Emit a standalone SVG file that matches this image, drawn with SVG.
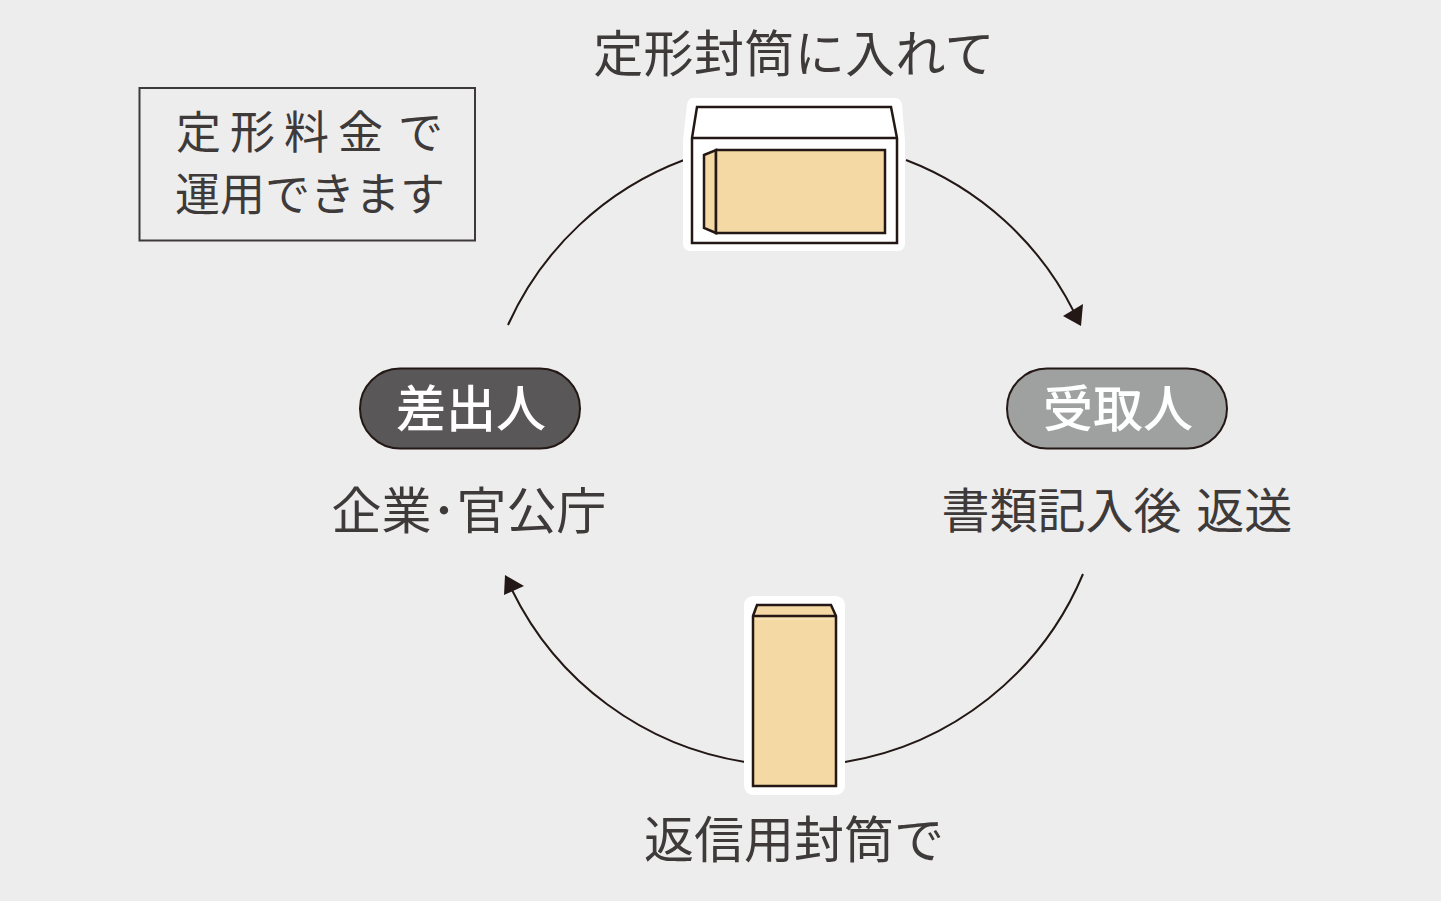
<svg xmlns="http://www.w3.org/2000/svg" width="1441" height="901" viewBox="0 0 1441 901">
<style>
text{font-family:"Noto Sans CJK JP","Noto Sans CJK SC",sans-serif;fill:#3e3a39;font-size:50px;text-anchor:middle}
.note{font-size:45px;text-anchor:start}
.pill{stroke:#231815;stroke-width:2}
.pt{fill:#fff;font-weight:500;font-size:50px}
.arc{fill:none;stroke:#231815;stroke-width:2}
.halo{fill:#fff}
.line{stroke:#231815;stroke-width:2.5;stroke-linejoin:miter}
.kraft{fill:#f4d9a5}
.ah{fill:#231815}
</style>
<rect width="1441" height="901" fill="#ededed"/>
<g id="connectors">
<path class="arc" d="M508 325A313 313 0 0 1 684 160"/>
<path class="arc" d="M906 160A313 313 0 0 1 1074 312"/>
<path class="ah" d="M1063 316L1083 304L1081 326Z"/>
<path class="arc" d="M1083 574A313 313 0 0 1 845 762"/>
<path class="arc" d="M745 762A313 313 0 0 1 512 590"/>
<path class="ah" d="M504 595L505 575L524 586Z"/>
</g>
<g id="note">
<rect x="139.500" y="88" width="335.500" height="152.500" fill="none" stroke="#3e3a39" stroke-width="2"/>
<text class="note" x="176" y="149" style="letter-spacing:9px">定形料金</text>
<text class="note" x="398" y="149">で</text>
<text class="note" x="175" y="211">運用できます</text>
</g>
<g id="envelope-top">
<text x="794" y="72" style="letter-spacing:0.400px">定形封筒に入れて</text>
<path class="halo" d="M693 98H895Q901 98 902 105L905 140V243Q905 251 897 251H691Q683 251 683 243V140L687 105Q688 98 693 98Z"/>
<path class="line" fill="#fff" d="M692 138L697 107H891L897 138V243H692Z"/>
<path class="line" d="M692 138H897" fill="none"/>
<path class="line kraft" d="M704 155L716 150V233L704 228Z"/>
<path class="line kraft" d="M716 150H885V233H716Z"/>
</g>
<g id="sender">
<rect class="pill" x="360" y="368.500" width="220" height="80" rx="40" fill="#595757"/>
<text class="pt" x="471" y="427">差出人</text>
<text x="469" y="529">企業･官公庁</text>
</g>
<g id="receiver">
<rect class="pill" x="1007" y="368.500" width="220" height="80" rx="40" fill="#9fa0a0"/>
<text class="pt" x="1118" y="427">受取人</text>
<text x="1117" y="528" style="font-size:48px;word-spacing:4px">書類記入後 返送</text>
</g>
<g id="envelope-bottom">
<rect class="halo" x="744" y="596" width="101" height="199" rx="9"/>
<path class="line kraft" d="M753 616L757 605H831L836 616V786H753Z"/>
<path d="M755 619H834" stroke="#f9e4b8" stroke-width="1.500" fill="none"/>
<path class="line" d="M753 616H836" fill="none"/>
<text x="794" y="858">返信用封筒で</text>
</g>
</svg>
